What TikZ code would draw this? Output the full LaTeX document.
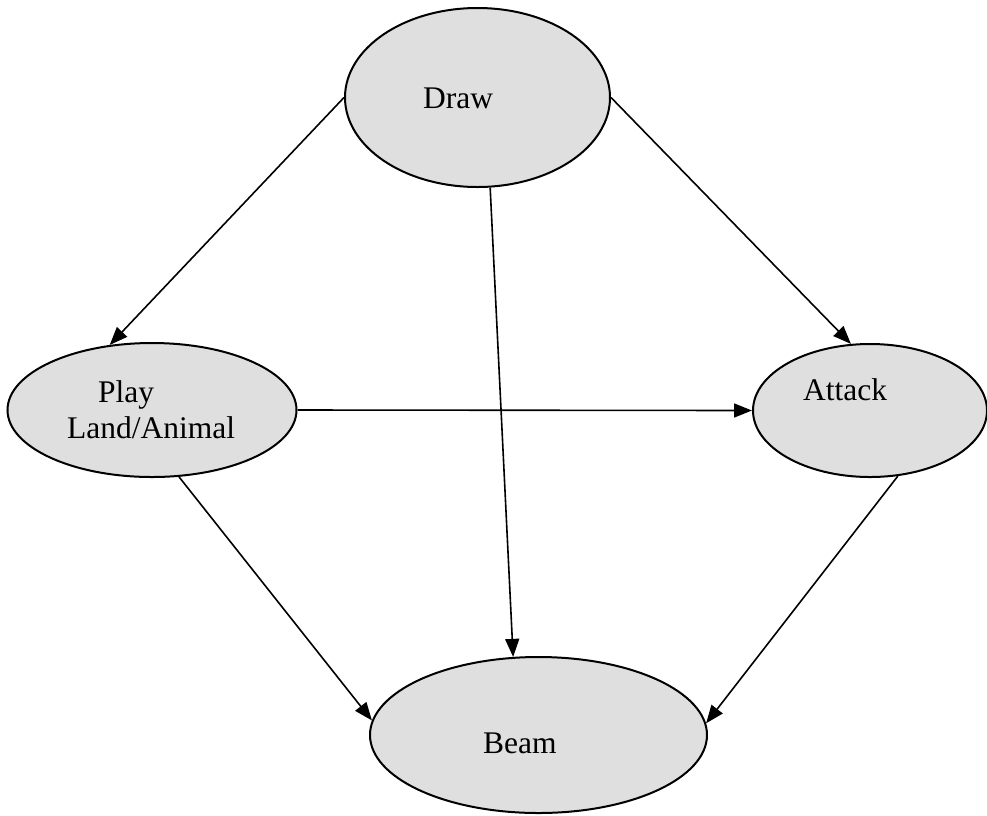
\documentclass[tikz,border=0pt]{standalone}
\usepackage{fontspec}
\setmainfont{Liberation Serif}
\usetikzlibrary{shapes.geometric,arrows.meta}
\begin{document}
\begin{tikzpicture}[x=1pt,y=-1pt,
  state/.style={ellipse,draw=black,fill=stategray,line width=2pt,inner sep=0pt},
  lbl/.style={anchor=base west,inner sep=0pt,font=\fontsize{31.5}{36}\selectfont},
  flow/.style={line width=1.6pt,-{Triangle[length=18pt,width=14pt]}}]
\definecolor{stategray}{HTML}{DFDFDF}
\useasboundingbox (0,0) rectangle (987,815);
% states
\node[state,minimum width=265pt,minimum height=179pt] (draw) at (477.5,97.5) {};
\node[state,minimum width=289pt,minimum height=134pt] (play) at (152,410) {};
\node[state,minimum width=234pt,minimum height=133pt] (attack) at (870,410.5) {};
\node[state,minimum width=337pt,minimum height=156pt] (beam) at (538.5,735) {};
% labels
\node[lbl] (tdraw) at (423,108) {Draw};
\node[lbl] (tplay) at (98,402) {Play};
\node[lbl] (tland) at (67,438) {Land/Animal};
\node[lbl] (tattack) at (803,400) {Attack};
\node[lbl] (tbeam) at (483,753) {Beam};
% transitions
\draw[flow] (draw.180) -- (play.123.9);
\draw[flow] (draw.0) -- (attack.106.7);
\draw[flow] (draw.-82) -- (beam.108.1);
\draw[flow] (play.0) -- (attack.180);
\draw[flow] (play.-68.8) -- (beam.175.6);
\draw[flow] (attack.-67.9) -- (beam.4.4);
\end{tikzpicture}
\end{document}
